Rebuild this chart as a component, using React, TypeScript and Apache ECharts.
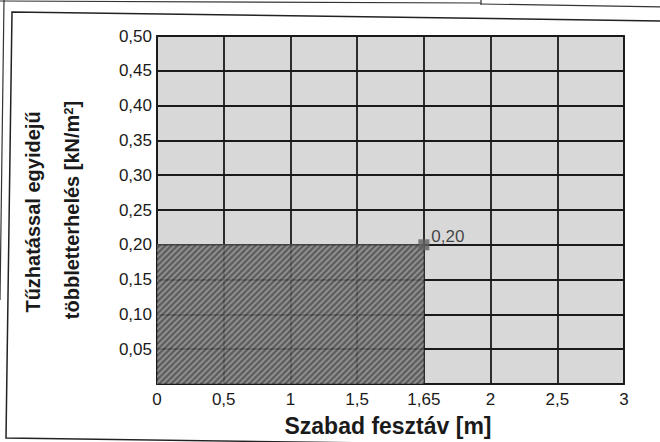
import React, { useEffect, useRef } from "react";
import * as echarts from "echarts";

const xLabels = ["0", "0,5", "1", "1,5", "1,65", "2", "2,5", "3"];
const loadValues: (number | string)[] = [0.2, 0.2, 0.2, 0.2, 0.2, "-", "-", "-"];
const markerValues: (number | string)[] = ["-", "-", "-", "-", 0.2, "-", "-", "-"];
const markerLabel = "0,20";
const yMin = 0;
const yMax = 0.5;
const yStep = 0.05;
const yTitleLine1 = "Tűzhatással egyidejű";
const yTitleLine2 = "többletterhelés [kN/m{sup|2}]";
const xTitle = "Szabad fesztáv [m]";

const FONT = "'Liberation Sans', Arial, sans-serif";

function makeHatch() {
  const c = document.createElement("canvas");
  c.width = 6;
  c.height = 6;
  const ctx = c.getContext("2d");
  if (ctx) {
    ctx.fillStyle = "#505050";
    ctx.fillRect(0, 0, 6, 6);
    ctx.strokeStyle = "#8a8a8a";
    ctx.lineWidth = 1.6;
    ctx.beginPath();
    ctx.moveTo(-1, 7);
    ctx.lineTo(7, -1);
    ctx.moveTo(-1, 1);
    ctx.lineTo(1, -1);
    ctx.moveTo(5, 7);
    ctx.lineTo(7, 5);
    ctx.stroke();
  }
  return c;
}

export default function App() {
  const ref = useRef<HTMLDivElement>(null);
  useEffect(() => {
    if (!ref.current) return;
    const chart = echarts.init(ref.current, null, { renderer: "svg" });
    const hatch = makeHatch();
    chart.setOption({
      animation: false,
      backgroundColor: "#ffffff",
      grid: {
        left: 157,
        right: 36,
        top: 36,
        bottom: 58,
        show: true,
        backgroundColor: "#d8d8d8",
        borderColor: "#1a1a1a",
        borderWidth: 1.8,
      },
      xAxis: {
        type: "category",
        data: xLabels,
        boundaryGap: false,
        axisLine: { show: false },
        axisTick: { show: false },
        axisLabel: { margin: 7, fontSize: 17, color: "#1a1a1a", fontFamily: FONT },
        splitLine: { show: true, lineStyle: { color: "#1a1a1a", width: 1.8 } },
      },
      yAxis: {
        type: "value",
        min: yMin,
        max: yMax,
        interval: yStep,
        axisLine: { show: false },
        axisTick: { show: false },
        axisLabel: {
          margin: 5,
          fontSize: 17,
          color: "#1a1a1a",
          fontFamily: FONT,
          formatter: (v: number) => (v === 0 ? "" : v.toFixed(2).replace(".", ",")),
        },
        splitLine: { show: true, lineStyle: { color: "#1a1a1a", width: 1.8 } },
      },
      series: [
        {
          type: "line",
          data: loadValues,
          symbol: "none",
          lineStyle: { color: "#505050", width: 1 },
          areaStyle: { color: { image: hatch, repeat: "repeat" } as any, opacity: 0.88 },
          z: 2,
        },
        {
          type: "scatter",
          data: markerValues,
          symbol: "rect",
          symbolSize: 11,
          itemStyle: { color: "#606060" },
          label: {
            show: true,
            formatter: markerLabel,
            position: "right",
            distance: 2,
            offset: [0, -8],
            fontSize: 17,
            color: "#1a1a1a",
            fontFamily: FONT,
          },
          z: 3,
        },
      ],
      graphic: [
        {
          type: "text",
          x: 33,
          y: 212,
          rotation: Math.PI / 2,
          style: {
            text: yTitleLine1,
            fontSize: 20,
            fontWeight: "bold",
            fontFamily: FONT,
            fill: "#1a1a1a",
            align: "center",
            verticalAlign: "middle",
          },
        },
        {
          type: "text",
          x: 72,
          y: 210,
          rotation: Math.PI / 2,
          style: {
            text: yTitleLine2,
            fontSize: 20,
            fontWeight: "bold",
            fontFamily: FONT,
            fill: "#1a1a1a",
            align: "center",
            verticalAlign: "middle",
            rich: {
              sup: {
                fontSize: 13,
                fontWeight: "bold",
                fontFamily: FONT,
                fill: "#1a1a1a",
                verticalAlign: "top",
              },
            },
          },
        },
        {
          type: "text",
          x: 388,
          y: 426,
          style: {
            text: xTitle,
            fontSize: 23,
            fontWeight: "bold",
            fontFamily: FONT,
            fill: "#1a1a1a",
            align: "center",
            verticalAlign: "middle",
          },
        },
        {
          type: "polyline",
          shape: { points: [[664, 21], [12, 12], [6, 438], [664, 447]] },
          style: { stroke: "#222", lineWidth: 1.5, fill: "none" },
        },
        {
          type: "polyline",
          shape: { points: [[0, 1], [481, 3]] },
          style: { stroke: "#333", lineWidth: 1.2, fill: "none" },
        },
        {
          type: "polyline",
          shape: { points: [[481, 0], [481, 5]] },
          style: { stroke: "#333", lineWidth: 1.2, fill: "none" },
        },
        {
          type: "polyline",
          shape: { points: [[481, 4], [664, 7]] },
          style: { stroke: "#333", lineWidth: 1.2, fill: "none" },
        },
        {
          type: "polyline",
          shape: { points: [[4, 0], [0, 300]] },
          style: { stroke: "#333", lineWidth: 1.2, fill: "none" },
        },
      ],
    });
    return () => chart.dispose();
  }, []);
  return (
    <div
      ref={ref}
      style={{ position: "fixed", left: 0, top: 0, width: 660, height: 442 }}
    />
  );
}
